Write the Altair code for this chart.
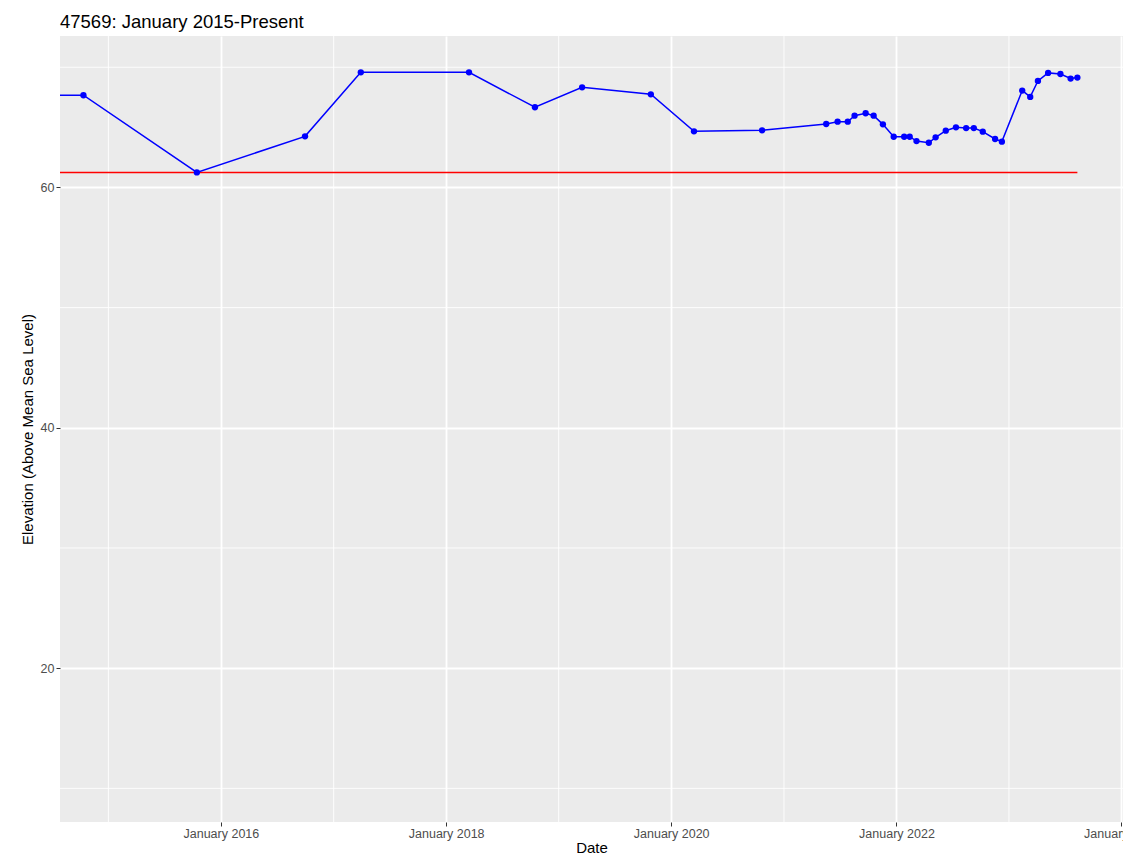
import altair as alt
import pandas as pd

# ---- data ----
dates = [
    "2014-01-15", "2014-10-12", "2015-10-15", "2016-09-30", "2017-03-30", "2018-03-16",
    "2018-10-16", "2019-03-18", "2019-10-27", "2020-03-15", "2020-10-22",
    "2021-05-18", "2021-06-24", "2021-07-27", "2021-08-18", "2021-09-23",
    "2021-10-19", "2021-11-18", "2021-12-23", "2022-01-26", "2022-02-13",
    "2022-03-07", "2022-04-16", "2022-05-08", "2022-06-10", "2022-07-13",
    "2022-08-15", "2022-09-09", "2022-10-08", "2022-11-17", "2022-12-09",
    "2023-02-13", "2023-03-11", "2023-04-05", "2023-05-08", "2023-06-17",
    "2023-07-20", "2023-08-11",
]
elevation = [
    67.67, 67.67, 61.25, 64.25, 69.58, 69.58,
    66.67, 68.33, 67.75, 64.67, 64.75,
    65.28, 65.47, 65.47, 65.97, 66.17,
    65.97, 65.25, 64.22, 64.22, 64.22,
    63.86, 63.72, 64.17, 64.72, 65.00,
    64.94, 64.94, 64.64, 64.03, 63.81,
    68.06, 67.53, 68.86, 69.53, 69.44,
    69.06, 69.14,
]

ref_start = ["2014-01-15"]
ref_end = ["2023-08-11"]
ref_value = [61.25]

major_years = [2016, 2018, 2020, 2022, 2024]
minor_years = ["2015-01-01", "2017-01-01", "2019-01-01", "2021-01-01", "2023-01-01"]
major_y = [20, 40, 60]
minor_y = [10, 30, 50, 70]

title_text = "47569: January 2015-Present"

# ---- tables ----
df = pd.DataFrame({"Date": dates, "Elevation": elevation})
ref_df = pd.DataFrame({"Date": ref_start, "Date2": ref_end, "Elevation": ref_value})
minor_x_df = pd.DataFrame({"Date": minor_years})
minor_y_df = pd.DataFrame({"Elevation": minor_y})

FONT = "Liberation Sans"

x_scale = alt.Scale(
    domain=[alt.DateTime(year=2014, month=7, date=28), alt.DateTime(year=2024, month=1, date=6)],
    nice=False,
)
y_scale = alt.Scale(domain=[7.2, 72.6], nice=False, zero=False)

x_axis = alt.Axis(
    values=[alt.DateTime(year=y, month=1, date=1) for y in major_years],
    format="%B %Y",
    grid=True, gridColor="white", gridWidth=1.8,
    domain=False, ticks=True, tickColor="#333333", tickSize=4, tickWidth=1,
    labelColor="#4d4d4d", labelFontSize=12.5, labelPadding=1, labelFlush=False,
    labelOverlap=False,
    title="Date", titleFontSize=15, titleColor="black", titleFontWeight="normal",
    titlePadding=1,
)
y_axis = alt.Axis(
    values=major_y,
    grid=True, gridColor="white", gridWidth=1.8,
    domain=False, ticks=True, tickColor="#333333", tickSize=4, tickWidth=1,
    labelColor="#4d4d4d", labelFontSize=12.5, labelPadding=2,
    title="Elevation (Above Mean Sea Level)", titleFontSize=15, titleColor="black",
    titleFontWeight="normal", titlePadding=5,
)

X = alt.X("Date:T", scale=x_scale, axis=x_axis)
Y = alt.Y("Elevation:Q", scale=y_scale, axis=y_axis)

minor_x = alt.Chart(minor_x_df).mark_rule(color="white", strokeWidth=0.9).encode(x=X)
minor_yl = alt.Chart(minor_y_df).mark_rule(color="white", strokeWidth=0.9).encode(y=Y)

ref_line = alt.Chart(ref_df).mark_rule(color="#FF0000", strokeWidth=1.5, clip=True).encode(
    x=X, x2="Date2:T", y=Y
)
line = alt.Chart(df).mark_line(color="#0000FF", strokeWidth=1.5, clip=True).encode(x=X, y=Y)
points = alt.Chart(df).mark_circle(color="#0000FF", size=40, opacity=1, clip=True).encode(x=X, y=Y)

chart = (
    alt.layer(minor_x, minor_yl, ref_line, line, points)
    .properties(
        width=1063,
        height=786,
        padding={"left": 52, "top": 28, "right": 0, "bottom": 34},
        autosize=alt.AutoSizeParams(type="none"),
        title=alt.Title(title_text, anchor="start", frame="group", fontSize=18.5,
                        fontWeight="normal", color="black", font=FONT, offset=4),
    )
    .configure(font=FONT)
    .configure_view(fill="#EBEBEB", stroke=None)
)

chart.save("out.html", embed_options={"renderer": "svg", "actions": False})
